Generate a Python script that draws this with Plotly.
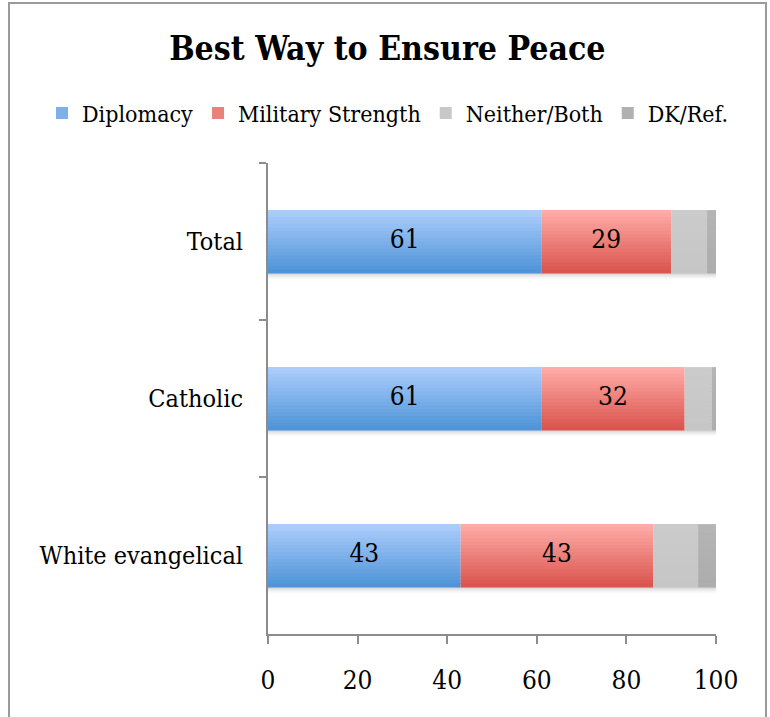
import plotly.graph_objects as go

# Survey results (percent)
categories = ["Total", "Catholic", "White evangelical"]
series_names = ["Diplomacy", "Military Strength", "Neither/Both", "DK/Ref."]
diplomacy = [61, 61, 43]
military = [29, 32, 43]
neither = [8, 6, 10]
dk_ref = [2, 1, 4]
x_ticks = [0, 20, 40, 60, 80, 100]

series_values = [diplomacy, military, neither, dk_ref]
# top / bottom colours of each series' vertical gradient
grad = [
    ("#abcdfb", "#4f94d8"),
    ("#ffaba7", "#da554e"),
    ("#cbcbcb", "#c6c6c6"),
    ("#b4b4b4", "#adadad"),
]
FONT = "DejaVu Serif Condensed, DejaVu Serif, serif"
BAR_W = 0.4
N_STRIPS = 18


def hex2rgb(h):
    h = h.lstrip("#")
    return [int(h[i:i + 2], 16) for i in (0, 2, 4)]


def mix(c1, c2, t):
    a, b = hex2rgb(c1), hex2rgb(c2)
    return "rgb(%d,%d,%d)" % tuple(round(a[i] + (b[i] - a[i]) * t) for i in range(3))


fig = go.Figure()

# running left edge for stacking
bases = []
run = [0] * len(categories)
for vals in series_values:
    bases.append(list(run))
    run = [r + v for r, v in zip(run, vals)]

# soft drop shadow below each bar
shadow = [0.16, 0.09, 0.04]
sh_w = 0.012
for j, a in enumerate(shadow):
    fig.add_trace(go.Bar(
        y=categories, x=run, base=[0] * len(categories), orientation="h",
        width=sh_w, offset=BAR_W / 2 + j * sh_w,
        marker=dict(color="rgba(0,0,0,%.2f)" % a, line=dict(width=0)),
        showlegend=False, hoverinfo="skip",
    ))

# gradient bars drawn as thin horizontal strips
sw = BAR_W / N_STRIPS
for s, (name, vals) in enumerate(zip(series_names, series_values)):
    top, bot = grad[s]
    for k in range(N_STRIPS):
        t = k / (N_STRIPS - 1)
        fig.add_trace(go.Bar(
            y=categories, x=vals, base=bases[s], orientation="h",
            width=sw * 1.15, offset=-BAR_W / 2 + k * sw,
            marker=dict(color=mix(top, bot, t), line=dict(width=0)),
            name=name, legendgroup=name,
            showlegend=False, hoverinfo="skip",
        ))
    # legend entry
    fig.add_trace(go.Bar(
        y=[None], x=[None], orientation="h", name=name, legendgroup=name,
        marker=dict(color=mix(top, bot, 0.5), line=dict(width=0)),
        showlegend=True,
    ))

# value labels for the two main series
for s in (0, 1):
    vals = series_values[s]
    fig.add_trace(go.Scatter(
        y=categories, x=[b + v / 2 for b, v in zip(bases[s], vals)],
        mode="text", text=[str(v) for v in vals],
        textfont=dict(family=FONT, size=26, color="#000000"),
        showlegend=False, hoverinfo="skip",
    ))

fig.update_layout(
    width=770, height=717,
    margin=dict(l=268, r=54, t=163, b=83),
    paper_bgcolor="white", plot_bgcolor="white",
    barmode="overlay",
    font=dict(family=FONT, size=25, color="#000000"),
    title=dict(
        text="<b>Best Way to Ensure Peace</b>",
        font=dict(family=FONT, size=33.5, color="#000000"),
        x=0.503, xanchor="center", xref="container",
        y=1 - 48 / 717, yanchor="middle", yref="container",
    ),
    legend=dict(
        orientation="h", x=(42 - 268) / 448, xanchor="left", xref="paper",
        y=1 + (163 - 113) / 471, yanchor="middle", yref="paper",
        font=dict(family=FONT, size=23, color="#000000"),
        itemwidth=30, tracegroupgap=0,
        bgcolor="rgba(0,0,0,0)",
    ),
    xaxis=dict(
        range=[0, 100], tickvals=x_ticks, showgrid=False, zeroline=False,
        showline=True, linecolor="#8c8c8c", linewidth=2,
        ticks="outside", ticklen=8, tickcolor="#8c8c8c", tickwidth=2,
        ticklabelstandoff=14,
        tickfont=dict(family=FONT, size=26, color="#000000"),
        fixedrange=True,
    ),
    yaxis=dict(
        type="category", categoryorder="array", categoryarray=categories,
        autorange="reversed",
        showgrid=False, zeroline=False,
        showline=True, linecolor="#8c8c8c", linewidth=2,
        ticks="outside", ticklen=7, tickcolor="#8c8c8c", tickwidth=2,
        tickson="boundaries", ticklabelstandoff=18,
        tickfont=dict(family=FONT, size=25, color="#000000"),
        fixedrange=True,
    ),
    showlegend=True,
)

# outer chart frame
fig.add_shape(
    type="rect", xref="paper", yref="paper",
    x0=(9 - 268) / 448, x1=(766 - 268) / 448,
    y0=-0.4, y1=1 + (163 - 3) / 471,
    line=dict(color="#9a9a9a", width=2), fillcolor="rgba(0,0,0,0)",
    layer="below",
)

fig.write_html("out.html")
